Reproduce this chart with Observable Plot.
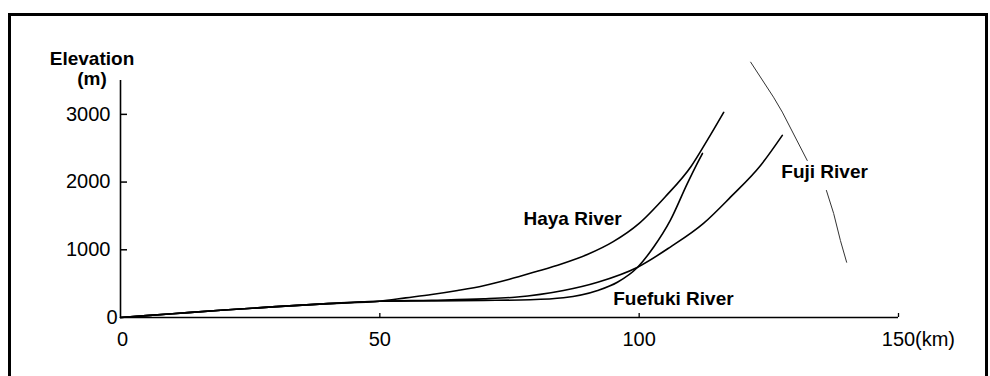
<!DOCTYPE html>
<html><head><meta charset="utf-8">
<script src="https://cdn.jsdelivr.net/npm/d3@7"></script>
<script src="https://cdn.jsdelivr.net/npm/@observablehq/plot@0.6"></script>
<style>
html,body{margin:0;padding:0;background:#fff;width:990px;height:376px;overflow:hidden;}
#wrap{position:relative;width:990px;height:376px;}
#frame{position:absolute;left:8px;top:13px;width:974px;height:420px;border:3px solid #000;border-bottom:none;box-sizing:content-box;}
#chart{position:absolute;left:0;top:0;}
</style></head><body>
<div id="wrap"><div id="frame"></div><div id="chart"></div></div>
<script>
// ---- data (distance from river mouth in km, elevation in m) ----
const hayaKm    = [0, 10, 20, 30, 40, 50, 55, 60, 65, 70, 75, 80, 85, 90, 95, 100, 105, 110, 113, 116.3];
const hayaElev  = [0, 55, 110, 160, 205, 240, 290, 340, 400, 470, 565, 675, 790, 930, 1120, 1390, 1780, 2230, 2600, 3030];

const fuefukiKm   = [0, 10, 20, 30, 40, 50, 60, 70, 79, 85.4, 92, 95.8, 99.7, 102.8, 106, 109.3, 111.2, 112.2];
const fuefukiElev = [0, 55, 110, 160, 205, 240, 245, 252, 262, 291, 399, 521, 743, 1040, 1433, 1980, 2275, 2423];

const fujiKm   = [0, 10, 20, 30, 40, 50, 60, 70, 76, 85.4, 92, 99.7, 106, 112.4, 117.6, 123.4, 127.6];
const fujiElev = [0, 55, 110, 160, 205, 240, 255, 275, 300, 399, 521, 743, 1040, 1390, 1777, 2245, 2690];

// faint descending trace near the "Fuji River" label, in two pieces
const traceUpperKm   = [121.5, 125.9, 127.6, 132.4];
const traceUpperElev = [3771, 3254, 3033, 2319];
const traceLowerKm   = [136.1, 137.5, 138.8, 140.0];
const traceLowerElev = [1876, 1536, 1137, 816];

const riverLabels = ["Haya River", "Fuefuki River", "Fuji River"];
const labelKm     = [77.7, 95.0, 127.4];
const labelElev   = [1453, 272, 2148];

const xTicks = [0, 50, 100, 150];
const yTicks = [1000, 2000, 3000];
const xDomain = [0, 150];
const yDomain = [0, 3500];
const yTitle = ["Elevation", "(m)"];
const xUnit = "(km)";

// ---- build tables ----
const toRows = (name, xs, ys) => xs.map((x, i) => ({river: name, km: x, elev: ys[i]}));
const rivers = [
  ...toRows("Haya River", hayaKm, hayaElev),
  ...toRows("Fuefuki River", fuefukiKm, fuefukiElev),
  ...toRows("Fuji River", fujiKm, fujiElev)
];
const trace = [
  ...toRows("upper", traceUpperKm, traceUpperElev),
  ...toRows("lower", traceLowerKm, traceLowerElev)
];
const labels = riverLabels.map((t, i) => ({text: t, km: labelKm[i], elev: labelElev[i]}));

const font = "'Liberation Sans', Arial, Helvetica, sans-serif";

const W = 990, H = 376, mL = 120, mR = 92, mT = 80, mB = 59;
const plotW = W - mL - mR, plotH = H - mT - mB;
const yTickLen = 7, xTickLen = 4;

const chart = Plot.plot({
  width: W,
  height: H,
  marginLeft: mL,
  marginRight: mR,
  marginTop: mT,
  marginBottom: mB,
  x: {domain: xDomain},
  y: {domain: yDomain},
  style: {fontFamily: font, fontSize: "20px", background: "transparent", color: "#000", overflow: "visible"},
  marks: [
    Plot.ruleX([0], {stroke: "#000", strokeWidth: 1.6}),
    Plot.ruleY([0], {stroke: "#000", strokeWidth: 1.6}),
    // inward ticks
    Plot.tickY(yTicks, {y: d => d, insetRight: plotW - yTickLen, stroke: "#000", strokeWidth: 1.5}),
    Plot.tickX(xTicks.slice(1), {x: d => d, insetTop: plotH - xTickLen, stroke: "#000", strokeWidth: 1.3}),
    Plot.axisY(yTicks, {tickSize: 0, tickPadding: 10, fontSize: 20, label: null, tickFormat: d => String(d)}),
    Plot.axisY([0], {tickSize: 0, tickPadding: 3, fontSize: 20, label: null, tickFormat: d => String(d)}),
    Plot.axisX(xTicks.slice(1), {tickSize: 0, tickPadding: 14, fontSize: 20, label: null, tickFormat: d => String(d)}),
    Plot.axisX([xTicks[0]], {tickSize: 0, tickPadding: 14, fontSize: 20, label: null, dx: 2, tickFormat: d => String(d)}),
    Plot.text([xUnit], {x: () => xDomain[1], y: () => yDomain[0], dx: 16.5, dy: 14, lineAnchor: "top", textAnchor: "start", fontSize: 20}),
    Plot.text([yTitle.join("\n")], {x: () => xDomain[0], y: () => yDomain[1], dx: -28.5, dy: 4, lineAnchor: "bottom", textAnchor: "middle", fontSize: 19, fontWeight: "bold", lineHeight: 1.05}),
    Plot.line(rivers, {x: "km", y: "elev", z: "river", stroke: "#000", strokeWidth: 1.6, curve: "monotone-x"}),
    Plot.line(trace, {x: "km", y: "elev", z: "river", stroke: "#333", strokeWidth: 1, curve: "linear"}),
    Plot.text(labels, {x: "km", y: "elev", text: "text", textAnchor: "start", fontSize: 19, fontWeight: "bold"})
  ]
});
document.getElementById("chart").appendChild(chart);
</script>
</body></html>
